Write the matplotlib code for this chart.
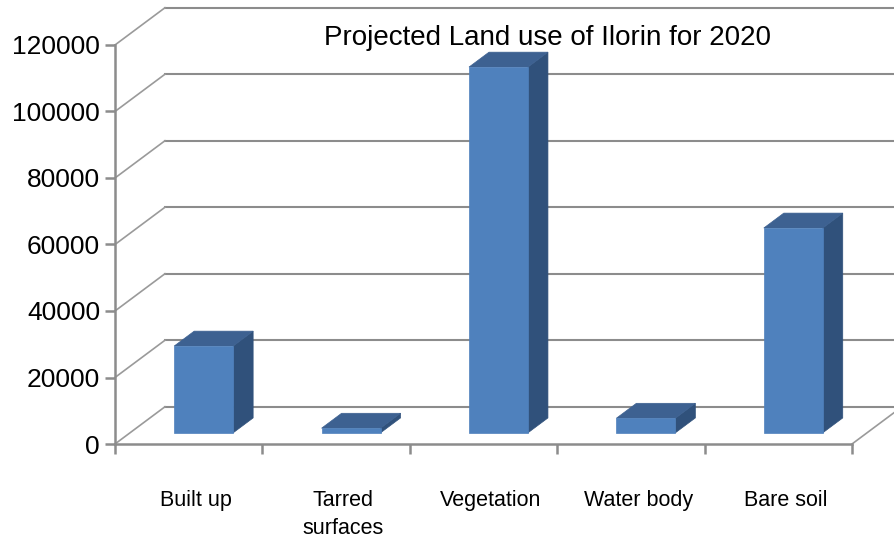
import matplotlib
matplotlib.use('Agg')
import matplotlib.pyplot as plt
from matplotlib.patches import Polygon
import numpy as np

plt.rcParams['font.family'] = ['Liberation Sans', 'DejaVu Sans']

# data
categories = ['Built up', 'Tarred\nsurfaces', 'Vegetation', 'Water body', 'Bare soil']
values = [26100, 1400, 110000, 4400, 61600]
yticks = [0, 20000, 40000, 60000, 80000, 100000, 120000]
title = 'Projected Land use of Ilorin for 2020'

# 3d look (oblique projection in data units)
DX, DY = 0.339, 11200      # full depth offset
d_front, d_bar = 0.3, 0.4  # bar starts at 0.3 depth, is 0.4 deep
bar_w = 0.4
grid_col = '#8c8c8c'
c_front, c_top, c_side = '#4f81bd', '#3d6191', '#30517b'

fig = plt.figure(figsize=(8.94, 5.4), dpi=100)
ax = fig.add_axes([0, 0, 1, 1])
ax.set_xlim(-0.780, 5.285)
ax.set_ylim(-28870, 133530)
ax.set_facecolor('white')

# back wall grid lines and left wall diagonals
for v in yticks:
    ax.plot([DX, 5.6], [v + DY, v + DY], color=grid_col, lw=1.5, zorder=1)
    ax.plot([0, DX], [v, v + DY], color='#9a9a9a', lw=1.2, zorder=1)
# floor right edge
ax.plot([5, 5 + DX], [0, DY], color='#9a9a9a', lw=1.2, zorder=1)

# bars
for i, v in enumerate(values):
    c = i + 0.5
    x0 = c - bar_w / 2 + d_front * DX
    x1 = x0 + bar_w
    y0 = d_front * DY
    y1 = y0 + v
    ddx, ddy = d_bar * DX, d_bar * DY
    front = [(x0, y0), (x1, y0), (x1, y1), (x0, y1)]
    top = [(x0, y1), (x1, y1), (x1 + ddx, y1 + ddy), (x0 + ddx, y1 + ddy)]
    side = [(x1, y0), (x1 + ddx, y0 + ddy), (x1 + ddx, y1 + ddy), (x1, y1)]
    ax.add_patch(Polygon(side, closed=True, fc=c_side, ec=c_side, lw=0.5, zorder=3))
    ax.add_patch(Polygon(top, closed=True, fc=c_top, ec=c_top, lw=0.5, zorder=3))
    ax.add_patch(Polygon(front, closed=True, fc=c_front, ec=c_front, lw=0.5, zorder=4))

# front axes
for s in ['top', 'right']:
    ax.spines[s].set_visible(False)
ax.spines['left'].set_position(('data', 0))
ax.spines['bottom'].set_position(('data', 0))
ax.spines['left'].set_bounds(0, 120000)
ax.spines['bottom'].set_bounds(0, 5)
for s in ['left', 'bottom']:
    ax.spines[s].set_color(grid_col)
    ax.spines[s].set_linewidth(1.8)
    ax.spines[s].set_zorder(5)

ax.set_yticks(yticks)
ax.set_yticklabels([str(v) for v in yticks])
ax.tick_params(axis='y', direction='out', length=7.2, width=1.8, color=grid_col,
               pad=3.5, labelsize=19)

ax.set_xticks(range(6))
ax.set_xticklabels([])
ax.tick_params(axis='x', which='major', direction='out', length=7.2, width=1.8,
               color=grid_col)
ax.set_xticks([i + 0.55 for i in range(5)], minor=True)
ax.set_xticklabels(categories, minor=True, linespacing=1.45)
ax.tick_params(axis='x', which='minor', length=0, pad=33, labelsize=15.5)

ax.text(548 / 894, 1 - 38 / 540, title, transform=ax.transAxes, ha='center',
        va='center', fontsize=20)

fig.savefig('out.png', dpi=100, facecolor='white')
